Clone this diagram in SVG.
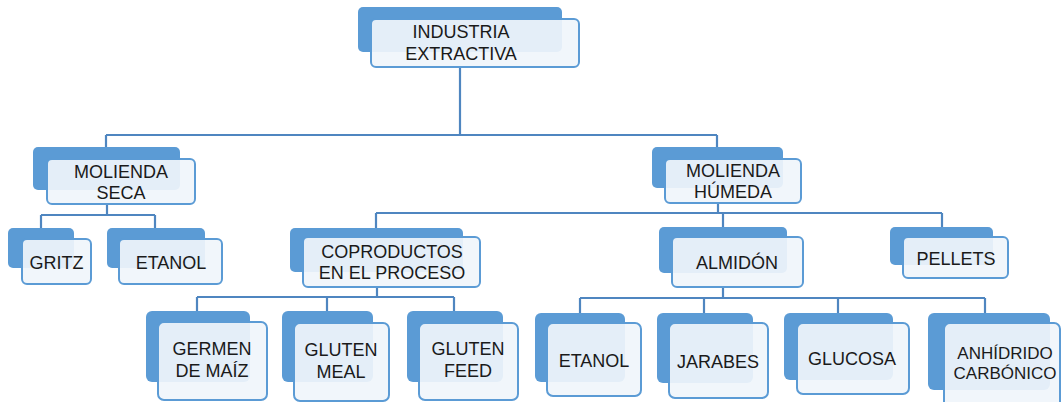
<svg xmlns="http://www.w3.org/2000/svg" width="1061" height="402" viewBox="0 0 1061 402">
<style>
.bk{fill:#5b9bd5;}
.fr{fill:#f0f5fb;fill-opacity:0.92;stroke:#5b9bd5;stroke-width:2;}
.t{font-family:"Liberation Sans",Arial,sans-serif;font-size:18px;fill:#1a1a1a;text-anchor:middle;}
.c{fill:none;stroke:#4f86c0;stroke-width:2.2;}
</style>
<rect width="1061" height="402" fill="#ffffff"/>
<g id="connectors" class="c">
<path d="M460,67 V135 M106,135 H717 M106,135 V147 M717,135 V147"/>
<path d="M107,204 V215 M41,215 H155 M41,215 V228 M155,215 V228"/>
<path d="M718,203 V213 M376,213 H942 M376,213 V228 M723,213 V227 M942,213 V227"/>
<path d="M377,287 V297 M197,297 H454 M197,297 V311 M327,297 V311 M454,297 V311"/>
<path d="M723,287 V298 M580,298 H985 M580,298 V313 M704,298 V313 M838,298 V313 M985,298 V313"/>
</g>
<g id="industria">
<rect class="bk" x="358" y="7" width="204" height="45" rx="5"/>
<rect class="fr" x="371" y="19" width="208" height="48" rx="5"/>
<text class="t" x="461" y="37.5">INDUSTRIA</text>
<text class="t" x="461" y="59.5">EXTRACTIVA</text>
</g>
<g id="molienda-seca">
<rect class="bk" x="33" y="147" width="147" height="43" rx="5"/>
<rect class="fr" x="47" y="159" width="148" height="45" rx="5"/>
<text class="t" x="121" y="177.5">MOLIENDA</text>
<text class="t" x="121" y="198.5">SECA</text>
</g>
<g id="gritz">
<rect class="bk" x="8" y="228" width="66" height="40" rx="5"/>
<rect class="fr" x="22" y="239" width="69" height="45" rx="5"/>
<text class="t" x="56.5" y="268.5">GRITZ</text>
</g>
<g id="etanol-seca">
<rect class="bk" x="107" y="228" width="98" height="40" rx="5"/>
<rect class="fr" x="119" y="239" width="103" height="45" rx="5"/>
<text class="t" x="171" y="268.5">ETANOL</text>
</g>
<g id="molienda-humeda">
<rect class="bk" x="652" y="147" width="131" height="41" rx="5"/>
<rect class="fr" x="665" y="159" width="136" height="44" rx="5"/>
<text class="t" x="733" y="176.5">MOLIENDA</text>
<text class="t" x="733" y="197.5">HÚMEDA</text>
</g>
<g id="coproductos">
<rect class="bk" x="290" y="228" width="173" height="44" rx="5"/>
<rect class="fr" x="303" y="237" width="177" height="50" rx="5"/>
<text class="t" x="392" y="257.5">COPRODUCTOS</text>
<text class="t" x="392" y="278.5">EN EL PROCESO</text>
</g>
<g id="almidon">
<rect class="bk" x="659" y="227" width="128" height="46" rx="5"/>
<rect class="fr" x="672" y="237" width="131" height="50" rx="5"/>
<text class="t" x="737" y="268.5">ALMIDÓN</text>
</g>
<g id="pellets">
<rect class="bk" x="890" y="227" width="103" height="38" rx="5"/>
<rect class="fr" x="903" y="237" width="105" height="41" rx="5"/>
<text class="t" x="956" y="264.5">PELLETS</text>
</g>
<g id="germen">
<rect class="bk" x="146" y="311" width="104" height="71" rx="6"/>
<rect class="fr" x="158" y="322" width="109" height="78" rx="6"/>
<text class="t" x="212" y="354.5">GERMEN</text>
<text class="t" x="212" y="376.5">DE MAÍZ</text>
</g>
<g id="gluten-meal">
<rect class="bk" x="282" y="311" width="91" height="71" rx="6"/>
<rect class="fr" x="294" y="323" width="95" height="78" rx="6"/>
<text class="t" x="341" y="355.5">GLUTEN</text>
<text class="t" x="341" y="377.5">MEAL</text>
</g>
<g id="gluten-feed">
<rect class="bk" x="407" y="311" width="96" height="71" rx="6"/>
<rect class="fr" x="419" y="323" width="99" height="77" rx="6"/>
<text class="t" x="468" y="354.5">GLUTEN</text>
<text class="t" x="468" y="376.5">FEED</text>
</g>
<g id="etanol-humeda">
<rect class="bk" x="535" y="313" width="90" height="69" rx="6"/>
<rect class="fr" x="547" y="323" width="94" height="73" rx="6"/>
<text class="t" x="594" y="366.5">ETANOL</text>
</g>
<g id="jarabes">
<rect class="bk" x="657" y="313" width="96" height="70" rx="6"/>
<rect class="fr" x="669" y="323" width="99" height="75" rx="6"/>
<text class="t" x="718" y="367.5">JARABES</text>
</g>
<g id="glucosa">
<rect class="bk" x="784" y="313" width="109" height="67" rx="6"/>
<rect class="fr" x="797" y="323" width="112" height="71" rx="6"/>
<text class="t" x="852" y="364.5">GLUCOSA</text>
</g>
<g id="anhidrido">
<rect class="bk" x="928" y="313" width="122" height="77" rx="6"/>
<rect class="fr" x="944" y="323" width="116" height="90" rx="6"/>
<text class="t" x="1005" y="358.5" style="font-size:17px">ANHÍDRIDO</text>
<text class="t" x="1005" y="378.5" style="font-size:17px">CARBÓNICO</text>
</g>
</svg>
